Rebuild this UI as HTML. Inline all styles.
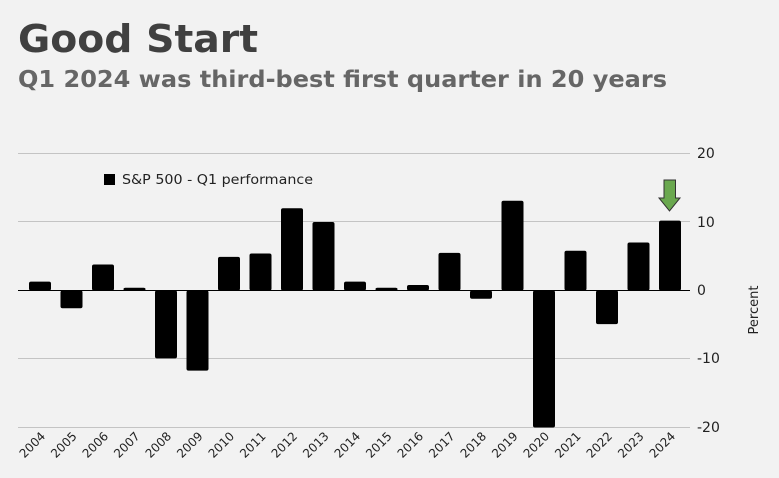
<!DOCTYPE html>
<html><head><style>
body{margin:0;background:#f2f2f2;}
svg{display:block;font-family:"DejaVu Sans","Liberation Sans",sans-serif;}
</style></head><body>
<svg width="779" height="478" viewBox="0 0 779 478">
<rect width="779" height="478" fill="#f2f2f2"/>
<text x="18" y="52" font-size="38" font-weight="bold" fill="#404040" textLength="240" lengthAdjust="spacingAndGlyphs">Good Start</text>
<text x="18" y="87" font-size="23" font-weight="bold" fill="#666" textLength="649" lengthAdjust="spacingAndGlyphs">Q1 2024 was third-best first quarter in 20 years</text>
<g stroke="#c4c4c4" stroke-width="1">
<line x1="18" x2="690" y1="153.5" y2="153.5"/>
<line x1="18" x2="690" y1="221.5" y2="221.5"/>
<line x1="18" x2="690" y1="358.5" y2="358.5"/>
<line x1="18" x2="690" y1="427.5" y2="427.5"/>
</g>
<g font-size="14" fill="#222">
<text x="697" y="158">20</text>
<text x="697" y="227">10</text>
<text x="697" y="295">0</text>
<text x="697" y="363">-10</text>
<text x="697" y="432">-20</text>
</g>
<text transform="translate(758,310) rotate(-90)" font-size="13" fill="#222" text-anchor="middle">Percent</text>
<rect x="104" y="174" width="11" height="11" fill="#000"/>
<text x="122" y="184" font-size="13" fill="#222" textLength="191" lengthAdjust="spacingAndGlyphs">S&amp;P 500 - Q1 performance</text>
<g id="bars" fill="#000"></g>
<line x1="18" x2="690" y1="290.5" y2="290.5" stroke="#000" stroke-width="1"/>
<g id="labels" font-size="12" fill="#222"></g>
<path d="M664,180 L675.5,180 L675.5,198 L680,198 L669.5,211 L659,198 L664,198 Z" fill="#6aa84f" stroke="#333" stroke-width="1"/>
<script>
var v=[1.3,-2.6,3.8,0.4,-9.9,-11.7,4.9,5.4,12.0,10.0,1.3,0.4,0.8,5.5,-1.2,13.1,-20,5.8,-4.9,7.0,10.2];
var b=document.getElementById('bars'),l=document.getElementById('labels'),ns='http://www.w3.org/2000/svg';
for(var i=0;i<21;i++){
 var cx=40+i*31.5,y0=290.5,h=v[i]*6.85;
 var r=document.createElementNS(ns,'rect');
 r.setAttribute('x',cx-11);r.setAttribute('width',22);
 r.setAttribute('y',h>0?y0-h:y0);r.setAttribute('height',Math.abs(h));
 r.setAttribute('rx',2);b.appendChild(r);
 var t=document.createElementNS(ns,'text');
 t.setAttribute('text-anchor','end');
 t.setAttribute('transform','translate('+(cx+6)+',437) rotate(-45)');
 t.textContent=2004+i;l.appendChild(t);
}
</script>
</svg>
</body></html>
